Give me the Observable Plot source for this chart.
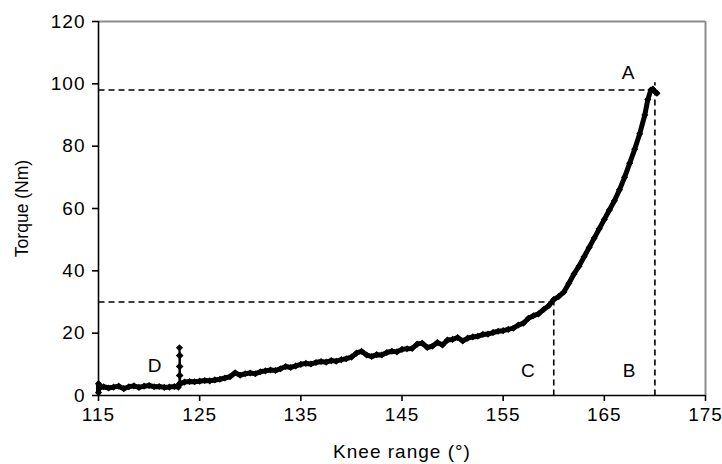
<!DOCTYPE html>
<html>
<head>
<meta charset="utf-8">
<script src="https://cdn.jsdelivr.net/npm/d3@7"></script>
<script src="https://cdn.jsdelivr.net/npm/@observablehq/plot@0.6"></script>
<style>
  html, body { margin: 0; padding: 0; background: white; }
</style>
</head>
<body>
<div id="chart"></div>
<script>
// Knee angle (°) and torque (Nm)
const knee = [115,115,115.2,115.5,116,116.5,117,117.5,118,118.5,119,119.5,120,120.5,121,121.5,122,122.5,122.9,
  123,123,123,123,123,123.05,123.05,123.05,123.1,
  123.5,124,124.5,125,125.5,126,126.5,127,127.5,128,128.5,129,129.5,130,130.5,131,131.5,132,132.5,133,
  133.5,134,134.5,135,135.5,136,136.5,137,137.5,138,138.5,139,139.5,140,140.5,141,141.5,142,142.5,143,
  143.5,144,144.5,145,145.5,146,146.5,147,147.5,148,148.5,149,149.5,150,150.5,151,151.5,152,152.5,153,
  153.5,154,154.5,155,155.5,156,156.5,157,157.5,158,158.5,159,159.5,160,160.5,161,161.5,162,162.5,163,
  163.5,164,164.5,165,165.5,166,166.5,167,167.5,168,168.5,169,169.3,169.6,169.8,170,170.2];
const torque = [1.0,3.8,2.6,2.8,2.4,2.7,3.0,2.2,2.8,3.1,2.6,3.0,3.2,2.8,2.9,2.6,2.7,2.9,2.7,
  3.8,6.4,9.3,12.8,15.3,12.8,9.3,6.4,3.8,
  4.3,4.5,4.4,4.6,4.8,4.7,5.0,5.2,5.6,6.0,7.3,6.5,7.0,7.2,7.0,7.6,7.9,8.2,8.0,8.6,
  9.3,9.0,9.5,10.0,10.3,10.1,10.6,10.9,10.7,11.2,11.0,11.5,11.8,12.3,13.6,14.2,13.0,12.5,13.1,13.0,
  13.8,14.2,14.0,14.8,15.0,15.1,16.5,16.8,15.4,15.8,17.0,16.2,17.8,18.0,18.6,17.5,18.4,18.8,19.0,19.6,
  19.7,20.2,20.6,20.8,21.2,21.6,22.6,23.2,24.8,25.6,26.2,27.6,28.8,30.8,31.8,33.2,36.0,39.0,41.5,44.5,
  47.5,50.5,53.5,56.5,59.5,62.5,66.0,70.0,74.5,79.0,84.0,90.0,95.0,98.0,98.3,97.5,97.0];

// Indices of the short spike at 123° (drawn with the thin connecting line only)
const spikeStart = 19, spikeEnd = 27;

// Reference (dashed) lines: A at (170, 98), C at (160, 30)
const refX = [170, 160];
const refY = [98, 30];
const refTop = [100.5, 30];

// Point labels
const labelText = ["A", "B", "C", "D"];
const labelX = [167.4, 167.5, 157.5, 120.6];
const labelY = [103.6, 7.8, 7.8, 9.6];

const xTicks = [115, 125, 135, 145, 155, 165, 175];
const yTicks = [0, 20, 40, 60, 80, 100, 120];

const n = Math.min(knee.length, torque.length);
const curve = d3.range(n).map(i => ({x: knee[i], y: torque[i], i}));
const thick = curve.filter(d => d.i <= spikeStart || d.i >= spikeEnd);
const spike = curve.filter(d => d.i >= spikeStart && d.i <= spikeEnd);
const refs = refX.map((x, i) => ({x, y: refY[i], top: refTop[i]}));
const labels = labelText.map((t, i) => ({t, x: labelX[i], y: labelY[i]}));

const chart = Plot.plot({
  width: 722,
  height: 464,
  marginLeft: 98,
  marginRight: 17,
  marginTop: 21,
  marginBottom: 69,
  style: {
    fontFamily: "'Liberation Sans', Arial, sans-serif",
    fontSize: "19px",
    background: "white",
    color: "black",
    overflow: "visible"
  },
  x: {
    domain: [115, 175],
    ticks: xTicks,
    tickSize: 6,
    tickPadding: 6,
    tickFormat: d => String(d),
    label: "Knee range (°)",
    labelArrow: "none",
    labelAnchor: "center",
    labelOffset: 62
  },
  y: {
    domain: [0, 120],
    ticks: yTicks,
    tickSize: 6,
    tickPadding: 7,
    tickFormat: d => String(d),
    label: "Torque (Nm)",
    labelArrow: "none",
    labelAnchor: "center",
    labelOffset: 83
  },
  marks: [
    Plot.ruleY([120], {stroke: "#8c8c8c", strokeWidth: 2}),
    Plot.ruleX([175], {stroke: "#8c8c8c", strokeWidth: 2}),
    Plot.link(refs, {x1: 115, y1: "y", x2: "x", y2: "y", stroke: "black", strokeWidth: 1.6, strokeDasharray: "6,4"}),
    Plot.link(refs, {x1: "x", y1: 0, x2: "x", y2: "top", stroke: "black", strokeWidth: 1.6, strokeDasharray: "6,4"}),
    Plot.ruleX([115], {stroke: "black", strokeWidth: 1.6}),
    Plot.ruleY([0], {stroke: "black", strokeWidth: 1.6}),
    Plot.line(thick, {x: "x", y: "y", stroke: "black", strokeWidth: 5, curve: "linear"}),
    Plot.line(spike, {x: "x", y: "y", stroke: "black", strokeWidth: 2, curve: "linear"}),
    Plot.dot(curve, {x: "x", y: "y", symbol: "diamond2", r: 3.2, fill: "black", stroke: "none"}),
    Plot.text(labels, {x: "x", y: "y", text: "t", fontSize: 19, fill: "black", textAnchor: "middle"})
  ]
});

document.getElementById("chart").appendChild(chart);

const svg = chart.tagName.toLowerCase() === "svg" ? chart : chart.querySelector("svg");
svg.querySelectorAll("text").forEach(t => {
  // strip any automatic axis arrows
  t.querySelectorAll("tspan").forEach(s => { s.textContent = s.textContent.replace(/\s*[→↑←↓]\s*/g, ""); });
  if (t.childElementCount === 0) t.textContent = t.textContent.replace(/\s*[→↑←↓]\s*/g, "");
  if (t.textContent.trim() === "Torque (Nm)") {
    t.style.letterSpacing = "0px";
    t.style.fontSize = "17.5px";
  } else {
    t.style.letterSpacing = "1px";
  }
});
svg.querySelectorAll("[aria-label='x-axis tick'] path, [aria-label='y-axis tick'] path").forEach(p => {
  p.setAttribute("stroke-width", "1.6");
});
</script>
</body>
</html>
